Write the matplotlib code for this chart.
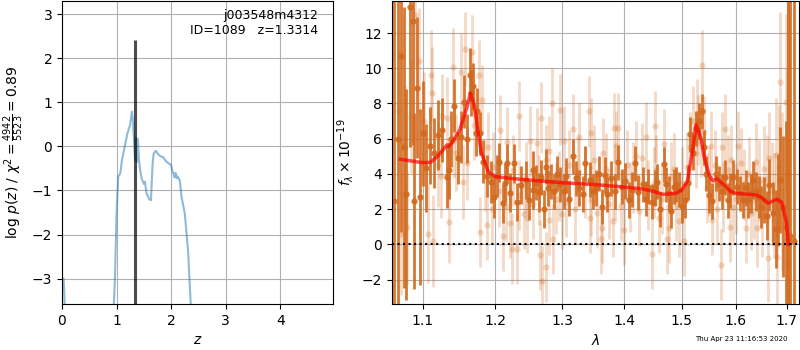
import matplotlib
matplotlib.use('Agg')
import matplotlib.pyplot as plt
import numpy as np
from matplotlib.ticker import NullLocator

# --- p(z) panel ---
z_grid = [0.0, 0.03, 0.06, 0.1, 0.9, 0.95, 0.97, 1.0, 1.03, 1.07, 1.10, 1.15, 1.2, 1.25, 1.28,
          1.3, 1.32, 1.34, 1.36, 1.37, 1.39, 1.41, 1.44, 1.46, 1.5, 1.52, 1.55, 1.6, 1.63,
          1.66, 1.68, 1.72, 1.76, 1.8, 1.85, 1.9, 1.95, 2.0, 2.02, 2.04, 2.06, 2.08, 2.1,
          2.12, 2.16, 2.19, 2.25, 2.31, 2.36, 2.5, 4.97]
logpz = [-3.0, -3.0, -3.9, -10, -10, -3.6, -3.0, -1.5, -0.69, -0.6, -0.3, 0.0, 0.3, 0.5, 0.79,
         0.6, 0.1, -0.3, 0.2, -0.35, 0.17, -0.3, -0.6, -0.73, -0.85, -0.8, -1.07, -1.2, -1.22,
         -0.4, -0.16, -0.1, -0.17, -0.22, -0.24, -0.33, -0.38, -0.42, -0.55, -0.61, -0.7, -0.6, -0.72,
         -0.68, -0.78, -1.14, -1.52, -2.36, -3.6, -10, -10]
z_best = 1.3314
chi2_num = 4942
chi2_den = 5523
obj_name = 'j003548m4312'
obj_id = 1089

# --- spectrum panel: first set (bold) ---
lam_a = [1.0628, 1.0680, 1.0719, 1.0760, 1.0788, 1.0832, 1.0869, 1.0891, 1.0932, 1.0969,
         1.1010, 1.1050, 1.1100, 1.1150, 1.1200, 1.1264, 1.1319, 1.1346, 1.1380, 1.1422,
         1.1469, 1.1510, 1.1558, 1.1600, 1.1640, 1.1655, 1.1680, 1.1718, 1.1740, 1.1776,
         1.1830, 1.1880, 1.1936, 1.1980, 1.2020, 1.2055, 1.2106, 1.2140, 1.2167, 1.2217,
         1.2267, 1.2318, 1.2379, 1.2444, 1.2494, 1.2546, 1.2556, 1.2600, 1.2641, 1.2680,
         1.2717, 1.2742, 1.2780, 1.2818, 1.2870, 1.2920, 1.2970, 1.3020, 1.3060, 1.3108,
         1.3163, 1.3216, 1.3270, 1.3325, 1.3351, 1.3432, 1.3490, 1.3540, 1.3590, 1.3638,
         1.3675, 1.3719, 1.3784, 1.3840, 1.3903, 1.3958, 1.4020, 1.4088, 1.4130, 1.4176,
         1.4236, 1.4324, 1.4370, 1.4412, 1.4471, 1.4520, 1.4559, 1.4617, 1.4677, 1.4720,
         1.4765, 1.4810, 1.4853, 1.4900, 1.4941, 1.5000, 1.5061, 1.5110, 1.5154, 1.5200,
         1.5246, 1.5309, 1.5357, 1.5400, 1.5431, 1.5494, 1.5556, 1.5617, 1.5679, 1.5740,
         1.5802, 1.5850, 1.5894, 1.5950, 1.6019, 1.6082, 1.6146, 1.6190, 1.6241, 1.6290,
         1.6336, 1.6398, 1.6450, 1.6493, 1.6555, 1.6600, 1.6650, 1.6726, 1.6777, 1.6828,
         1.6871, 1.6934, 1.6980, 1.7028, 1.7080, 1.7142]
flux_a = [2.46, 6.0, 10.7, 5.5, 2.84, 13.5, 12.66, 2.46, 8.9, 2.7,
          6.3, 4.36, 5.6, 5.2, 6.2, 6.5, 3.85, 4.2, 6.0, 7.87,
          4.9, 6.1, 8.1, 6.0, 9.63, 8.6, 9.0, 6.3, 7.58, 6.3,
          4.7, 3.9, 3.56, 2.7, 3.9, 4.66, 2.33, 3.5, 4.6, 2.94,
          4.6, 2.4, 3.37, 3.66, 2.5, 3.1, 4.2, 3.5, 2.95, 3.8,
          2.0, 4.4, 3.2, 3.56, 3.0, 4.0, 3.4, 3.0, 3.9, 2.6,
          5.0, 3.75, 3.2, 2.86, 4.6, 3.66, 3.0, 3.2, 4.0, 2.14,
          3.94, 2.85, 3.75, 3.0, 4.65, 3.28, 3.6, 2.52, 3.1, 4.6,
          2.96, 3.4, 2.6, 3.28, 2.42, 3.2, 3.56, 1.98, 4.55, 3.4,
          2.9, 1.9, 3.28, 3.4, 3.1, 2.2, 2.5, 3.5, 6.25, 5.2,
          6.6, 7.0, 7.55, 5.5, 4.0, 2.8, 2.46, 4.0, 3.45, 3.0,
          3.8, 2.5, 3.05, 3.8, 3.28, 2.9, 2.52, 3.2, 2.52, 2.9,
          3.66, 3.0, 2.7, 2.14, 2.52, 1.62, 3.37, 1.76, 0.86, 2.52,
          3.66, 2.14, 1.0, 0.3, 0.5, 0.2]
err_a = [12, 10, 10, 8, 6, 8, 7, 5, 4, 5,
         3, 2.5, 2.2, 2.0, 2.0, 1.8, 1.8, 1.6, 1.6, 1.5,
         1.5, 1.5, 1.5, 1.4, 1.5, 1.3, 1.3, 1.3, 1.3, 1.2,
         1.2, 1.2, 1.2, 1.2, 1.2, 1.1, 1.1, 1.1, 1.1, 1.1,
         1.1, 1.1, 1.1, 1.1, 1.1, 1.1, 1.1, 1.0, 1.1, 1.0,
         1.1, 1.0, 1.0, 1.0, 1.0, 1.0, 1.0, 1.0, 1.0, 1.0,
         1.0, 1.0, 1.0, 1.0, 1.0, 1.0, 1.0, 1.0, 1.0, 1.0,
         1.0, 1.0, 1.0, 1.0, 1.0, 1.0, 1.0, 1.0, 1.0, 1.0,
         1.0, 1.0, 1.0, 1.0, 1.0, 1.0, 1.0, 1.0, 1.0, 1.0,
         1.0, 1.0, 1.0, 1.0, 1.0, 1.0, 1.0, 1.0, 1.0, 1.0,
         1.0, 1.0, 1.0, 1.0, 1.0, 1.0, 1.0, 1.0, 1.0, 1.0,
         1.0, 1.0, 1.0, 1.0, 1.0, 1.0, 1.0, 1.0, 1.0, 1.1,
         1.1, 1.1, 1.2, 1.2, 1.3, 1.4, 1.5, 1.8, 2.2, 2.6,
         3.0, 4.0, 6.0, 20, 25, 30]

# --- spectrum panel: second set (faint) ---
lam_b = [1.0696, 1.0720, 1.0764, 1.0800, 1.0842, 1.0900, 1.0947, 1.1014, 1.1068, 1.1105,
         1.1128, 1.1141, 1.1200, 1.1250, 1.1264, 1.1320, 1.1354, 1.1400, 1.1422, 1.1450,
         1.1514, 1.1550, 1.1570, 1.1600, 1.1673, 1.1700, 1.1763, 1.1776, 1.1809, 1.1850,
         1.1877, 1.1900, 1.1950, 1.1967, 1.2050, 1.2066, 1.2116, 1.2150, 1.2167, 1.2217,
         1.2242, 1.2250, 1.2318, 1.2343, 1.2350, 1.2419, 1.2450, 1.2469, 1.2510, 1.2550,
         1.2606, 1.2650, 1.2657, 1.2667, 1.2692, 1.2742, 1.2750, 1.2793, 1.2800, 1.2844,
         1.2860, 1.2900, 1.2950, 1.2959, 1.3000, 1.3020, 1.3050, 1.3100, 1.3163, 1.3200,
         1.3250, 1.3269, 1.3350, 1.3416, 1.3430, 1.3450, 1.3460, 1.3500, 1.3550, 1.3620,
         1.3638, 1.3650, 1.3700, 1.3750, 1.3810, 1.3828, 1.3850, 1.3860, 1.3893, 1.3950,
         1.4000, 1.4050, 1.4100, 1.4150, 1.4200, 1.4250, 1.4300, 1.4370, 1.4400, 1.4471,
         1.4500, 1.4529, 1.4550, 1.4600, 1.4650, 1.4677, 1.4735, 1.4765, 1.4800, 1.4850,
         1.4900, 1.4941, 1.5000, 1.5031, 1.5100, 1.5150, 1.5200, 1.5250, 1.5277, 1.5300,
         1.5350, 1.5369, 1.5400, 1.5450, 1.5500, 1.5530, 1.5543, 1.5600, 1.5650, 1.5710,
         1.5740, 1.5750, 1.5802, 1.5850, 1.5894, 1.5900, 1.5950, 1.6000, 1.6050, 1.6100,
         1.6150, 1.6196, 1.6250, 1.6300, 1.6350, 1.6380, 1.6400, 1.6450, 1.6500, 1.6550,
         1.6600, 1.6619, 1.6650, 1.6700, 1.6750, 1.6777, 1.6800, 1.6850, 1.6871, 1.6900,
         1.6979, 1.7005, 1.7020]
flux_b = [7.6, 0.6, 5.5, 0.96, 7.26, 13.0, 10.4, 7.0, 0.6, 9.6,
          8.6, 0.2, 4.5, 3.9, 7.3, 7.2, 1.25, 10.1, 5.95, 5.2,
          9.8, 3.55, 11.1, 4.6, 10.9, 6.8, 9.6, 0.7, 8.2, 3.9,
          1.1, 5.5, 2.0, 4.4, 3.0, 6.5, 0.5, 2.2, 5.8, 1.2,
          -0.24, 4.2, -0.24, 7.3, 2.8, 1.75, 3.8, 1.5, 5.85, 2.3,
          5.75, 3.1, -0.6, 7.2, -2.1, -1.3, 4.8, 1.4, 5.3, 8.0,
          0.3, 2.6, 3.3, 7.65, 1.75, 5.85, 2.4, 4.5, 6.55, 2.0,
          4.1, 6.1, 3.5, 7.55, 1.5, 2.5, 6.3, 4.8, 1.8, 0.3,
          0.95, 5.2, 4.3, 2.3, 1.3, 6.6, 3.4, 5.6, 6.6, 2.2,
          0.8, 4.5, 2.7, 3.8, 5.0, 1.9, 4.9, 6.1, 2.8, -0.55,
          3.5, 6.7, 4.2, 1.5, 2.6, 5.7, 0.3, 0.95, 3.8, 4.3,
          2.2, 1.3, 3.5, 0.2, 4.4, 5.5, 7.0, 5.2, 7.4, 6.5,
          5.8, 10.2, 6.4, 3.2, 3.6, 5.6, 1.4, 4.5, 2.0, -1.15,
          5.5, 2.7, 6.55, 4.2, 1.0, 4.8, 2.1, 2.6, 5.6, 4.6,
          3.4, 0.95, 4.0, 1.8, 2.5, 4.7, 0.9, 3.6, 1.6, 4.3,
          3.7, -0.8, 4.9, 3.0, 2.2, 5.1, -0.7, 4.4, 9.2, 3.0,
          8.1, 4.0, -1.1]
err_b = [3.5, 3.5, 3.5, 3.2, 3.2, 3.0, 3.0, 2.8, 2.8, 2.6,
         2.6, 2.6, 2.4, 2.4, 2.4, 2.3, 2.3, 2.2, 2.2, 2.2,
         2.2, 2.1, 2.1, 2.1, 2.1, 2.0, 2.0, 2.0, 2.0, 2.0,
         2.0, 2.0, 2.0, 2.0, 2.0, 2.0, 2.0, 2.0, 2.0, 2.0,
         2.0, 2.0, 2.0, 2.0, 2.0, 2.0, 2.0, 2.0, 2.0, 2.0,
         2.0, 2.0, 2.0, 2.0, 2.0, 2.0, 2.0, 2.0, 2.0, 2.0,
         2.0, 2.0, 2.0, 2.0, 2.0, 2.0, 2.0, 2.0, 2.0, 2.0,
         2.0, 2.0, 2.0, 2.0, 2.0, 2.0, 2.0, 2.0, 2.0, 2.0,
         2.0, 2.0, 2.0, 2.0, 2.0, 2.0, 2.0, 2.0, 2.0, 2.0,
         2.0, 2.0, 2.0, 2.0, 2.0, 2.0, 2.0, 2.0, 2.0, 2.0,
         2.0, 2.0, 2.0, 2.0, 2.0, 2.0, 2.0, 2.0, 2.0, 2.0,
         2.0, 2.0, 2.0, 2.0, 2.0, 2.0, 2.0, 2.0, 2.0, 2.0,
         2.0, 2.0, 2.0, 2.0, 2.0, 2.0, 2.0, 2.0, 2.0, 2.0,
         2.0, 2.0, 2.0, 2.0, 2.0, 2.0, 2.0, 2.0, 2.0, 2.0,
         2.0, 2.0, 2.1, 2.1, 2.2, 2.2, 2.2, 2.3, 2.3, 2.4,
         2.5, 2.5, 2.6, 2.8, 3.0, 3.2, 3.2, 3.5, 4.0, 4.5,
         5.0, 6.0, 6.0]

# --- best-fit model ---
lam_model = [1.071, 1.09, 1.10, 1.11, 1.12, 1.1326, 1.1345, 1.14, 1.15, 1.16,
             1.1646, 1.17, 1.175, 1.18, 1.19, 1.20, 1.22, 1.25, 1.30, 1.35,
             1.40, 1.43, 1.45, 1.467, 1.49, 1.50, 1.51, 1.52, 1.5255, 1.535,
             1.54, 1.55, 1.557, 1.5638, 1.58, 1.59, 1.60, 1.62, 1.64, 1.65,
             1.663, 1.68, 1.69, 1.70, 1.7035]
flux_model = [4.83, 4.7, 4.64, 4.65, 5.0, 5.65, 5.55, 5.8, 6.5, 7.8,
              8.59, 7.9, 6.5, 5.2, 4.1, 3.85, 3.75, 3.65, 3.5, 3.4,
              3.25, 3.15, 3.0, 2.84, 2.9, 3.1, 3.6, 5.5, 6.79, 6.0,
              5.0, 3.9, 3.6, 3.75, 3.3, 3.0, 2.9, 2.85, 2.8, 2.65,
              2.33, 2.56, 2.4, 1.2, 0.0]

lam_ticks = [1.1, 1.2, 1.3, 1.4, 1.5, 1.6, 1.7]
timestamp = 'Thu Apr 23 11:16:53 2020'

fig = plt.figure(figsize=(8, 3.5), dpi=100)
ax1 = fig.add_axes([0.0775, 0.131, 0.339, 0.866])
ax2 = fig.add_axes([0.49, 0.131, 0.509, 0.866])

# left: log p(z)
ax1.plot(z_grid, logpz, color='tab:blue', alpha=0.5, lw=1.5)
ax1.vlines(z_best, -3.58, 2.42, color='k', alpha=0.7, lw=2.2)
ax1.set_xlim(0, 4.97)
ax1.set_ylim(-3.58, 3.3)
ax1.set_xticks([0, 1, 2, 3, 4])
ax1.set_yticks([-3, -2, -1, 0, 1, 2, 3])
ax1.grid()
ax1.set_xlabel(r'$z$')
ax1.set_ylabel(r'$\log\,p(z)$ / $\chi^2=\frac{%d}{%d}=%.2f$'
               % (chi2_num, chi2_den, chi2_num / chi2_den))
ax1.text(0.945, 0.975, '%s\nID=%d   z=%.4f' % (obj_name, obj_id, z_best),
         transform=ax1.transAxes, ha='right', va='top', fontsize=9)

# right: spectrum
col = '#d2691e'
ax2.errorbar(lam_b, flux_b, yerr=err_b, fmt='o', color=col, alpha=0.25,
             ms=4.5, elinewidth=2, mew=0)
ax2.errorbar(lam_a, flux_a, yerr=err_a, fmt='o', color=col, alpha=0.9,
             ms=4.5, elinewidth=2, mew=0)
ax2.plot(lam_model, flux_model, color='red', alpha=0.7, lw=2.5, zorder=10)
ax2.axhline(0, color='k', ls=':', lw=1.5, zorder=11)

ax2.set_xscale('log')
ax2.set_xlim(1.0604, 1.7259)
ax2.set_ylim(-3.4, 13.82)
ax2.set_xticks(lam_ticks)
ax2.set_xticklabels(['%.1f' % t for t in lam_ticks])
ax2.xaxis.set_minor_locator(NullLocator())
ax2.set_yticks([-2, 0, 2, 4, 6, 8, 10, 12])
ax2.grid()
ax2.set_xlabel(r'$\lambda$')
ax2.set_ylabel(r'$f_\lambda \times 10^{-19}$')

fig.text(0.985, 0.031, timestamp, ha='right', va='center', fontsize=5)

fig.savefig('out.png', dpi=100)
